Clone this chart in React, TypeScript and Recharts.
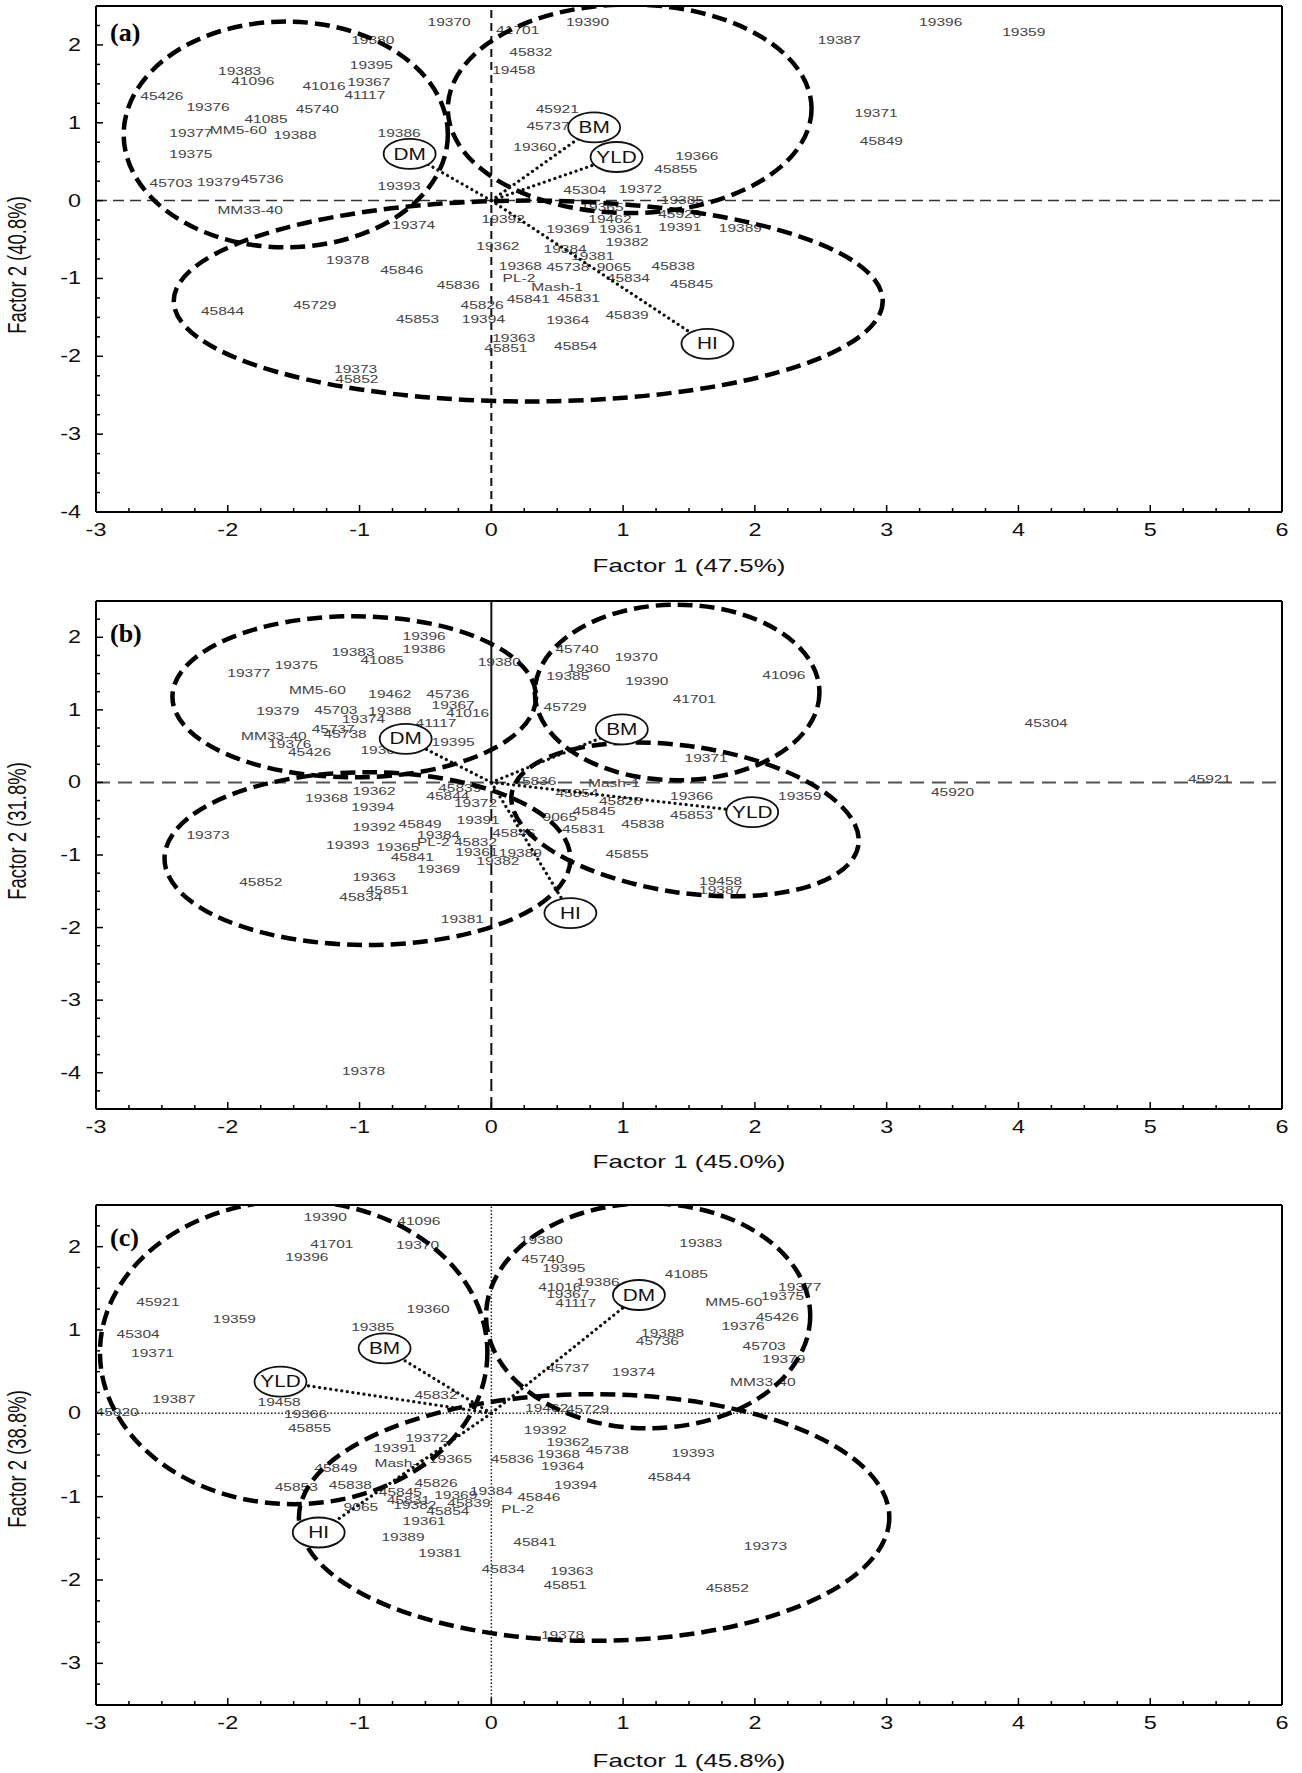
import React from "react";
import { ScatterChart, Scatter, XAxis, YAxis, ReferenceLine } from "recharts";

type Row = [string, number, number];
// group ellipse: centre x, centre y, radius x, radius y (data units), tilt in degrees
type Group = [number, number, number, number, number];

const FONT = "'Liberation Sans', Arial, Helvetica, sans-serif";

const X_DOMAIN: [number, number] = [-3, 6];
const X_TICKS = [-3, -2, -1, 0, 1, 2, 3, 4, 5, 6];

// ---------- panel (a) ----------
const A_Y_DOMAIN: [number, number] = [-4, 2.5];
const A_Y_TICKS = [-4, -3, -2, -1, 0, 1, 2];
const A_GENOTYPES: Row[] = [
  ["19370", -0.32, 2.29], ["41701", 0.2, 2.19], ["19390", 0.73, 2.29], ["19396", 3.41, 2.29],
  ["19359", 4.04, 2.16], ["19387", 2.64, 2.06], ["19380", -0.9, 2.06], ["45832", 0.3, 1.9],
  ["19395", -0.91, 1.74], ["19458", 0.17, 1.68], ["19383", -1.91, 1.66], ["41096", -1.81, 1.54],
  ["41016", -1.27, 1.47], ["19367", -0.93, 1.52], ["41117", -0.96, 1.36], ["45426", -2.5, 1.34],
  ["19376", -2.15, 1.2], ["45740", -1.32, 1.18], ["41085", -1.71, 1.05], ["19371", 2.92, 1.12],
  ["45921", 0.5, 1.17], ["45737", 0.43, 0.96], ["19377", -2.28, 0.87], ["MM5-60", -1.92, 0.91],
  ["19388", -1.49, 0.84], ["19386", -0.7, 0.86], ["45849", 2.96, 0.76], ["19375", -2.28, 0.59],
  ["19360", 0.33, 0.68], ["19366", 1.56, 0.57], ["45855", 1.4, 0.4], ["45703", -2.43, 0.22],
  ["19379", -2.07, 0.24], ["45736", -1.74, 0.28], ["19393", -0.7, 0.19], ["45304", 0.71, 0.13],
  ["19372", 1.13, 0.15], ["19385", 1.45, 0.0], ["19365", 0.84, -0.08], ["45920", 1.43, -0.18],
  ["19462", 0.9, -0.24], ["MM33-40", -1.83, -0.12], ["19374", -0.59, -0.31], ["19392", 0.09, -0.24],
  ["19369", 0.58, -0.37], ["19361", 0.98, -0.37], ["19391", 1.43, -0.34], ["19389", 1.89, -0.35],
  ["19382", 1.03, -0.53], ["19362", 0.05, -0.59], ["19384", 0.56, -0.63], ["19381", 0.77, -0.72],
  ["19378", -1.09, -0.77], ["45846", -0.68, -0.9], ["19368", 0.22, -0.84], ["45738", 0.58, -0.86],
  ["9065", 0.93, -0.85], ["45838", 1.38, -0.84], ["PL-2", 0.21, -1.0], ["45834", 1.04, -1.0],
  ["45836", -0.25, -1.09], ["Mash-1", 0.5, -1.11], ["45845", 1.52, -1.08], ["45831", 0.66, -1.25],
  ["45841", 0.28, -1.27], ["45826", -0.07, -1.34], ["45729", -1.34, -1.34], ["45844", -2.04, -1.42],
  ["45853", -0.56, -1.52], ["19394", -0.06, -1.52], ["19364", 0.58, -1.53], ["45839", 1.03, -1.47],
  ["19363", 0.17, -1.77], ["45851", 0.11, -1.89], ["45854", 0.64, -1.87], ["19373", -1.03, -2.16],
  ["45852", -1.02, -2.3],
];
const A_VARIABLES: Row[] = [["DM", -0.62, 0.6], ["BM", 0.78, 0.94], ["YLD", 0.95, 0.56], ["HI", 1.64, -1.84]];
const A_GROUPS: Group[] = [
  [-1.56, 0.85, 1.23, 1.45, 0],
  [1.05, 1.18, 1.38, 1.34, 0],
  [0.28, -1.29, 2.69, 1.29, 0],
];

// ---------- panel (b) ----------
const B_Y_DOMAIN: [number, number] = [-4.5, 2.5];
const B_Y_TICKS = [-4, -3, -2, -1, 0, 1, 2];
const B_GENOTYPES: Row[] = [
  ["19396", -0.51, 2.02], ["19383", -1.05, 1.8], ["19386", -0.51, 1.83], ["41085", -0.83, 1.69],
  ["19375", -1.48, 1.62], ["19377", -1.84, 1.51], ["19380", 0.06, 1.65], ["MM5-60", -1.32, 1.27],
  ["19462", -0.77, 1.21], ["45736", -0.33, 1.21], ["19367", -0.29, 1.07], ["41016", -0.18, 0.96],
  ["19379", -1.62, 0.98], ["45703", -1.18, 1.0], ["19388", -0.77, 0.98], ["19374", -0.97, 0.87],
  ["41117", -0.42, 0.81], ["45737", -1.2, 0.73], ["45738", -1.11, 0.66], ["MM33-40", -1.65, 0.63],
  ["19376", -1.53, 0.52], ["45426", -1.38, 0.41], ["19395", -0.29, 0.55], ["19364", -0.83, 0.44],
  ["45839", -0.24, -0.08], ["19368", -1.25, -0.22], ["19362", -0.89, -0.12], ["45844", -0.33, -0.19],
  ["19372", -0.12, -0.28], ["19394", -0.9, -0.34], ["19391", -0.1, -0.52], ["19392", -0.89, -0.62],
  ["45849", -0.54, -0.57], ["19384", -0.4, -0.73], ["45846", 0.17, -0.7], ["19373", -2.15, -0.73],
  ["19393", -1.09, -0.87], ["19365", -0.71, -0.89], ["PL-2", -0.44, -0.83], ["45832", -0.12, -0.83],
  ["19361", -0.11, -0.96], ["19389", 0.22, -0.98], ["19382", 0.05, -1.09], ["45841", -0.6, -1.03],
  ["19369", -0.4, -1.2], ["45852", -1.75, -1.37], ["19363", -0.89, -1.31], ["45851", -0.79, -1.49],
  ["45834", -0.99, -1.58], ["19381", -0.22, -1.88], ["19458", 1.74, -1.36], ["19387", 1.74, -1.49],
  ["19378", -0.97, -3.98], ["45740", 0.65, 1.83], ["19370", 1.1, 1.73], ["19360", 0.74, 1.57],
  ["19385", 0.58, 1.47], ["19390", 1.18, 1.4], ["41096", 2.22, 1.48], ["41701", 1.54, 1.15],
  ["45729", 0.56, 1.03], ["45304", 4.21, 0.82], ["19371", 1.63, 0.33], ["45836", 0.33, 0.01],
  ["Mash-1", 0.93, -0.01], ["45921", 5.45, 0.04], ["45920", 3.5, -0.14], ["45854", 0.65, -0.15],
  ["45826", 0.98, -0.26], ["19366", 1.52, -0.19], ["19359", 2.34, -0.19], ["45845", 0.78, -0.39],
  ["9065", 0.52, -0.48], ["45853", 1.52, -0.45], ["45838", 1.15, -0.57], ["45831", 0.7, -0.65],
  ["45855", 1.03, -0.99],
];
const B_VARIABLES: Row[] = [["DM", -0.65, 0.6], ["BM", 0.99, 0.73], ["YLD", 1.98, -0.41], ["HI", 0.6, -1.8]];
const B_GROUPS: Group[] = [
  [-1.04, 1.18, 1.38, 1.11, 0],
  [-0.94, -1.05, 1.54, 1.19, 0],
  [1.41, 1.24, 1.08, 1.21, 0],
  [1.47, -0.51, 1.33, 1.01, 8.4],
];

// ---------- panel (c) ----------
const C_Y_DOMAIN: [number, number] = [-3.5, 2.5];
const C_Y_TICKS = [-3, -2, -1, 0, 1, 2];
const C_GENOTYPES: Row[] = [
  ["19390", -1.26, 2.35], ["41096", -0.55, 2.3], ["41701", -1.21, 2.03], ["19370", -0.56, 2.02],
  ["19396", -1.4, 1.87], ["45921", -2.53, 1.33], ["19359", -1.95, 1.13], ["19360", -0.48, 1.25],
  ["19385", -0.9, 1.03], ["45304", -2.68, 0.95], ["19371", -2.57, 0.72], ["19387", -2.41, 0.17],
  ["19458", -1.61, 0.13], ["45832", -0.42, 0.22], ["45920", -2.84, 0.01], ["19366", -1.41, -0.01],
  ["45855", -1.38, -0.18], ["19372", -0.49, -0.3], ["19391", -0.73, -0.42], ["Mash-1", -0.69, -0.6],
  ["19365", -0.31, -0.55], ["45849", -1.18, -0.66], ["45836", 0.16, -0.55], ["19392", 0.41, -0.2],
  ["19462", 0.42, 0.06], ["45729", 0.73, 0.05], ["19380", 0.38, 2.08], ["45740", 0.39, 1.85],
  ["19395", 0.55, 1.74], ["41016", 0.52, 1.51], ["19386", 0.81, 1.57], ["19367", 0.58, 1.43],
  ["41117", 0.64, 1.32], ["19383", 1.59, 2.04], ["41085", 1.48, 1.67], ["19377", 2.34, 1.51],
  ["MM5-60", 1.84, 1.33], ["19375", 2.21, 1.4], ["45426", 2.17, 1.15], ["19376", 1.91, 1.04],
  ["19388", 1.3, 0.96], ["45736", 1.26, 0.86], ["45703", 2.07, 0.8], ["19379", 2.22, 0.65],
  ["45737", 0.58, 0.54], ["19374", 1.08, 0.49], ["MM33-40", 2.06, 0.37], ["19362", 0.58, -0.35],
  ["19368", 0.51, -0.49], ["45738", 0.88, -0.44], ["19393", 1.53, -0.48], ["19364", 0.54, -0.64],
  ["45844", 1.35, -0.77], ["45853", -1.48, -0.89], ["45838", -1.07, -0.86], ["45826", -0.42, -0.84],
  ["45845", -0.69, -0.95], ["19369", -0.27, -0.98], ["19384", 0.0, -0.94], ["45846", 0.36, -1.01],
  ["19394", 0.64, -0.86], ["45831", -0.63, -1.04], ["19382", -0.58, -1.1], ["45839", -0.17, -1.08],
  ["45854", -0.33, -1.17], ["9065", -0.99, -1.13], ["PL-2", 0.2, -1.15], ["19361", -0.51, -1.3],
  ["19389", -0.67, -1.49], ["45841", 0.33, -1.55], ["19381", -0.39, -1.68], ["19373", 2.08, -1.6],
  ["45834", 0.09, -1.87], ["19363", 0.61, -1.9], ["45851", 0.56, -2.06], ["45852", 1.79, -2.1],
  ["19378", 0.54, -2.66],
];
const C_VARIABLES: Row[] = [["BM", -0.81, 0.78], ["YLD", -1.6, 0.38], ["DM", 1.12, 1.42], ["HI", -1.31, -1.43]];
const C_GROUPS: Group[] = [
  [-1.5, 0.73, 1.47, 1.82, 0],
  [1.19, 1.17, 1.23, 1.35, 0],
  [0.78, -1.25, 2.24, 1.48, 0],
];

// ---------- layout ----------
const CHART_W = 1302;
const PLOT_W = 1186;
const STRETCH = 1.35; // the printed figure is stretched sideways

function quarterTicks([lo, hi]: [number, number]) {
  const out: number[] = [];
  for (let v = lo; v <= hi + 1e-9; v += 0.25) out.push(v);
  return out;
}

function AxisTick(props: any) {
  const { x, y, payload, side, majors } = props;
  const v = payload.value;
  const major = majors.includes(v);
  const len = major ? 7 : 4;
  const st = { stroke: "#000", strokeWidth: 1.5 };
  const txt = { fontFamily: FONT, fontSize: 18, fill: "#111" };
  if (side === "bottom") {
    return (
      <g>
        <line x1={x} x2={x} y1={y} y2={y - len} {...st} />
        {major && (
          <text transform={`translate(${x} ${y + 24}) scale(1.3 1)`} textAnchor="middle" {...txt}>
            {v}
          </text>
        )}
      </g>
    );
  }
  if (side === "left") {
    return (
      <g>
        <line x1={x} x2={x + len} y1={y} y2={y} {...st} />
        {major && (
          <text transform={`translate(${x - 15} ${y + 6}) scale(1.3 1)`} textAnchor="end" {...txt}>
            {v}
          </text>
        )}
      </g>
    );
  }
  if (side === "top") return <line x1={x} x2={x} y1={y} y2={y + len} {...st} />;
  return <line x1={x} x2={x - len} y1={y} y2={y} {...st} />;
}

const LabelShape = (props: any) => {
  const { cx, cy, payload } = props;
  return (
    <text
      transform={`translate(${cx} ${cy}) scale(${STRETCH} 1)`}
      textAnchor="middle"
      dominantBaseline="central"
      fontFamily={FONT}
      fontSize={11.5}
      fill="#444"
    >
      {payload.name}
    </text>
  );
};

const VariableShape = (props: any) => {
  const { cx, cy, payload } = props;
  return (
    <g>
      <ellipse cx={cx} cy={cy} rx={26} ry={15} fill="#fff" stroke="#111" strokeWidth={1.8} />
      <text
        transform={`translate(${cx} ${cy}) scale(1.3 1)`}
        textAnchor="middle"
        dominantBaseline="central"
        fontFamily={FONT}
        fontSize={16}
        fill="#111"
      >
        {payload.name}
      </text>
    </g>
  );
};

const noDot = () => <g />;

type PanelProps = {
  plotTop: number;
  plotH: number;
  yDomain: [number, number];
  yTicks: number[];
  genotypes: Row[];
  variables: Row[];
  groups: Group[];
  zeroLines: any[];
};

function Panel({ plotTop, plotH, yDomain, yTicks, genotypes, variables, groups, zeroLines }: PanelProps) {
  const H = plotH + 6 + 40 + 10;
  const pxX = PLOT_W / (X_DOMAIN[1] - X_DOMAIN[0]);
  const pxY = plotH / (yDomain[1] - yDomain[0]);
  const xMinor = quarterTicks(X_DOMAIN);
  const yMinor = quarterTicks(yDomain);
  const labels = genotypes.map(([name, x, y]) => ({ name, x, y }));
  const vars = variables.map(([name, x, y]) => ({ name, x, y }));
  const groupData = groups.map(([x, y, rx, ry, rot]) => ({ x, y, rx, ry, rot }));

  const GroupShape = (props: any) => {
    const { cx, cy, payload } = props;
    return (
      <ellipse
        cx={cx}
        cy={cy}
        rx={payload.rx * pxX}
        ry={payload.ry * pxY}
        transform={payload.rot ? `rotate(${payload.rot} ${cx} ${cy})` : undefined}
        fill="none"
        stroke="#000"
        strokeWidth={4.5}
        strokeDasharray="15 7"
      />
    );
  };

  return (
    <div style={{ position: "absolute", left: 0, top: plotTop - 6 }}>
      <ScatterChart width={CHART_W} height={H} margin={{ top: 0, right: 10, bottom: 10, left: 36 }}>
        <XAxis
          type="number"
          dataKey="x"
          domain={X_DOMAIN}
          ticks={xMinor}
          interval={0}
          allowDataOverflow
          height={40}
          tickSize={0}
          tickMargin={0}
          tickLine={false}
          axisLine={{ stroke: "#000", strokeWidth: 2 }}
          tick={(p: any) => <AxisTick {...p} side="bottom" majors={X_TICKS} />}
        />
        <XAxis
          xAxisId="top"
          orientation="top"
          type="number"
          domain={X_DOMAIN}
          ticks={xMinor}
          interval={0}
          height={6}
          tickSize={0}
          tickMargin={0}
          tickLine={false}
          axisLine={{ stroke: "#000", strokeWidth: 2 }}
          tick={(p: any) => <AxisTick {...p} side="top" majors={X_TICKS} />}
        />
        <YAxis
          type="number"
          dataKey="y"
          domain={yDomain}
          ticks={yMinor}
          interval={0}
          allowDataOverflow
          width={60}
          tickSize={0}
          tickMargin={0}
          tickLine={false}
          axisLine={{ stroke: "#000", strokeWidth: 2 }}
          tick={(p: any) => <AxisTick {...p} side="left" majors={yTicks} />}
        />
        <YAxis
          yAxisId="right"
          orientation="right"
          type="number"
          domain={yDomain}
          ticks={yMinor}
          interval={0}
          width={10}
          tickSize={0}
          tickMargin={0}
          tickLine={false}
          axisLine={{ stroke: "#000", strokeWidth: 2 }}
          tick={(p: any) => <AxisTick {...p} side="right" majors={yTicks} />}
        />
        {zeroLines.map((z, i) => (
          <ReferenceLine key={`z${i}`} {...z} />
        ))}
        <Scatter data={labels} shape={LabelShape} isAnimationActive={false} />
        <Scatter data={groupData} shape={GroupShape} isAnimationActive={false} />
        {vars.map((v) => (
          <Scatter
            key={`v-${v.name}`}
            data={[{ x: 0, y: 0 }, { x: v.x, y: v.y }]}
            shape={noDot}
            line={{ stroke: "#111", strokeWidth: 3.2, strokeDasharray: "0.1 5.5", strokeLinecap: "round" }}
            isAnimationActive={false}
          />
        ))}
        <Scatter data={vars} shape={VariableShape} isAnimationActive={false} />
      </ScatterChart>
    </div>
  );
}

const A_ZERO = [
  { x: 0, stroke: "#111", strokeWidth: 2, strokeDasharray: "8 5" },
  { y: 0, stroke: "#333", strokeWidth: 1.5, strokeDasharray: "11 6" },
];
const B_ZERO = [
  { segment: [{ x: 0, y: 0 }, { x: 0, y: 2.5 }], stroke: "#111", strokeWidth: 2 },
  { segment: [{ x: 0, y: -4.5 }, { x: 0, y: 0 }], stroke: "#111", strokeWidth: 2, strokeDasharray: "12 6" },
  { y: 0, stroke: "#555", strokeWidth: 2, strokeDasharray: "14 8" },
];
const C_ZERO = [
  { x: 0, stroke: "#222", strokeWidth: 1.5, strokeDasharray: "1.5 2" },
  { y: 0, stroke: "#222", strokeWidth: 1.5, strokeDasharray: "1.5 2" },
];

const X_TITLES = ["Factor 1 (47.5%)", "Factor 1 (45.0%)", "Factor 1 (45.8%)"];
const Y_TITLES = ["Factor 2 (40.8%)", "Factor 2 (31.8%)", "Factor 2 (38.8%)"];
const TAGS = ["(a)", "(b)", "(c)"];

export default function App() {
  const titleStyle = { fontFamily: FONT, fontSize: 18.5, fill: "#111" };
  const xTitleY = [572, 1168, 1767];
  const yTitleY = [265, 831, 1459];
  const tagY = [41, 642, 1246];
  return (
    <div style={{ position: "absolute", left: 0, top: 0, width: 1302, height: 1773, background: "#fff" }}>
      <Panel plotTop={6} plotH={506} yDomain={A_Y_DOMAIN} yTicks={A_Y_TICKS} genotypes={A_GENOTYPES} variables={A_VARIABLES} groups={A_GROUPS} zeroLines={A_ZERO} />
      <Panel plotTop={601} plotH={508} yDomain={B_Y_DOMAIN} yTicks={B_Y_TICKS} genotypes={B_GENOTYPES} variables={B_VARIABLES} groups={B_GROUPS} zeroLines={B_ZERO} />
      <Panel plotTop={1205} plotH={500} yDomain={C_Y_DOMAIN} yTicks={C_Y_TICKS} genotypes={C_GENOTYPES} variables={C_VARIABLES} groups={C_GROUPS} zeroLines={C_ZERO} />
      <svg width={1302} height={1773} style={{ position: "absolute", left: 0, top: 0, pointerEvents: "none" }}>
        {X_TITLES.map((t, i) => (
          <text key={t} transform={`translate(689 ${xTitleY[i]}) scale(1.4 1)`} textAnchor="middle" {...titleStyle}>
            {t}
          </text>
        ))}
        {Y_TITLES.map((t, i) => (
          <text key={t} transform={`translate(26 ${yTitleY[i]}) scale(1.4 1) rotate(-90)`} textAnchor="middle" {...titleStyle}>
            {t}
          </text>
        ))}
        {TAGS.map((t, i) => (
          <text key={t} x={110} y={tagY[i]} fontFamily="'Liberation Serif', 'Times New Roman', serif" fontWeight="bold" fontSize={26} fill="#000">
            {t}
          </text>
        ))}
      </svg>
    </div>
  );
}
